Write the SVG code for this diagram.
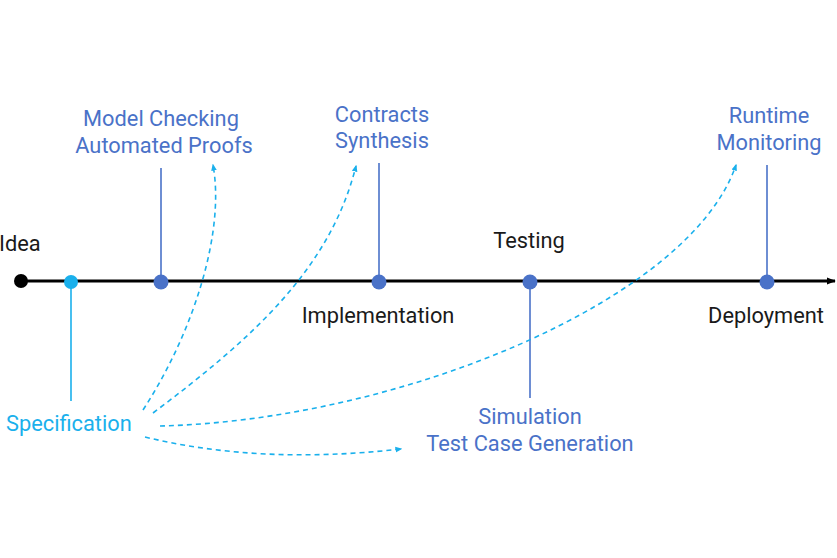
<svg xmlns="http://www.w3.org/2000/svg" width="837" height="558" viewBox="0 0 837 558">
<defs>
<style>
text{font-family:Roboto,"Liberation Sans",sans-serif;font-size:21.8px}
.blue{fill:#4a72c8}
.cyan{fill:#1ab0ec}
.dark{fill:#1a1a1a}
.stem{stroke:#4a72c8;stroke-width:1.6}
.dash{fill:none;stroke:#1ab0ec;stroke-width:1.6;stroke-dasharray:5 4}
</style>
<marker id="ah" viewBox="0 0 10 10" refX="8" refY="5" markerWidth="7" markerHeight="7" orient="auto" markerUnits="userSpaceOnUse">
<path d="M0,1L10,5L0,9z" fill="#1ab0ec"/>
</marker>
<marker id="bh" viewBox="0 0 10 10" refX="9" refY="5" markerWidth="9" markerHeight="9" orient="auto" markerUnits="userSpaceOnUse">
<path d="M0,1L10,5L0,9z" fill="#000"/>
</marker>
</defs>
<rect width="837" height="558" fill="#fff"/>
<g id="connectors">
<line x1="21" y1="281" x2="835" y2="281" stroke="#000" stroke-width="3" marker-end="url(#bh)"/>
<line class="stem" x1="161" y1="168" x2="161" y2="281"/>
<line class="stem" x1="379" y1="163" x2="379" y2="281"/>
<line class="stem" x1="767" y1="165" x2="767" y2="281"/>
<line class="stem" x1="530" y1="281" x2="530" y2="398"/>
<line x1="71" y1="281" x2="71" y2="401" stroke="#1ab0ec" stroke-width="1.6"/>
<path class="dash" d="M143,410 C195,330 225,230 213,165" marker-end="url(#ah)"/>
<path class="dash" d="M153,413 C250,340 330,270 356,166" marker-end="url(#ah)"/>
<path class="dash" d="M160,426 C400,420 690,300 736,165" marker-end="url(#ah)"/>
<path class="dash" d="M145,437 Q260,465 401,449" marker-end="url(#ah)"/>
</g>
<g id="idea"><circle cx="21" cy="281" r="7" fill="#000"/><text class="dark" x="-1" y="251">Idea</text></g>
<g id="specification"><circle cx="71" cy="282" r="7" fill="#1ab0ec"/><text class="cyan" x="6" y="431">Specification</text></g>
<g id="model-checking"><circle cx="161" cy="282" r="7.5" fill="#4a72c8"/>
<text class="blue" text-anchor="middle"><tspan x="161" y="126">Model Checking</tspan><tspan x="164" y="153">Automated Proofs</tspan></text></g>
<g id="implementation"><circle cx="379" cy="282" r="7.5" fill="#4a72c8"/>
<text class="blue" text-anchor="middle"><tspan x="382" y="122">Contracts</tspan><tspan x="382" y="148">Synthesis</tspan></text>
<text class="dark" x="378" y="323" text-anchor="middle">Implementation</text></g>
<g id="testing"><circle cx="530" cy="282" r="7.5" fill="#4a72c8"/>
<text class="dark" x="529" y="248" text-anchor="middle">Testing</text>
<text class="blue" text-anchor="middle"><tspan x="530" y="424">Simulation</tspan><tspan x="530" y="451">Test Case Generation</tspan></text></g>
<g id="deployment"><circle cx="767" cy="282" r="7.5" fill="#4a72c8"/>
<text class="blue" text-anchor="middle"><tspan x="769" y="123">Runtime</tspan><tspan x="769" y="150">Monitoring</tspan></text>
<text class="dark" x="766" y="323" text-anchor="middle">Deployment</text></g>
</svg>
